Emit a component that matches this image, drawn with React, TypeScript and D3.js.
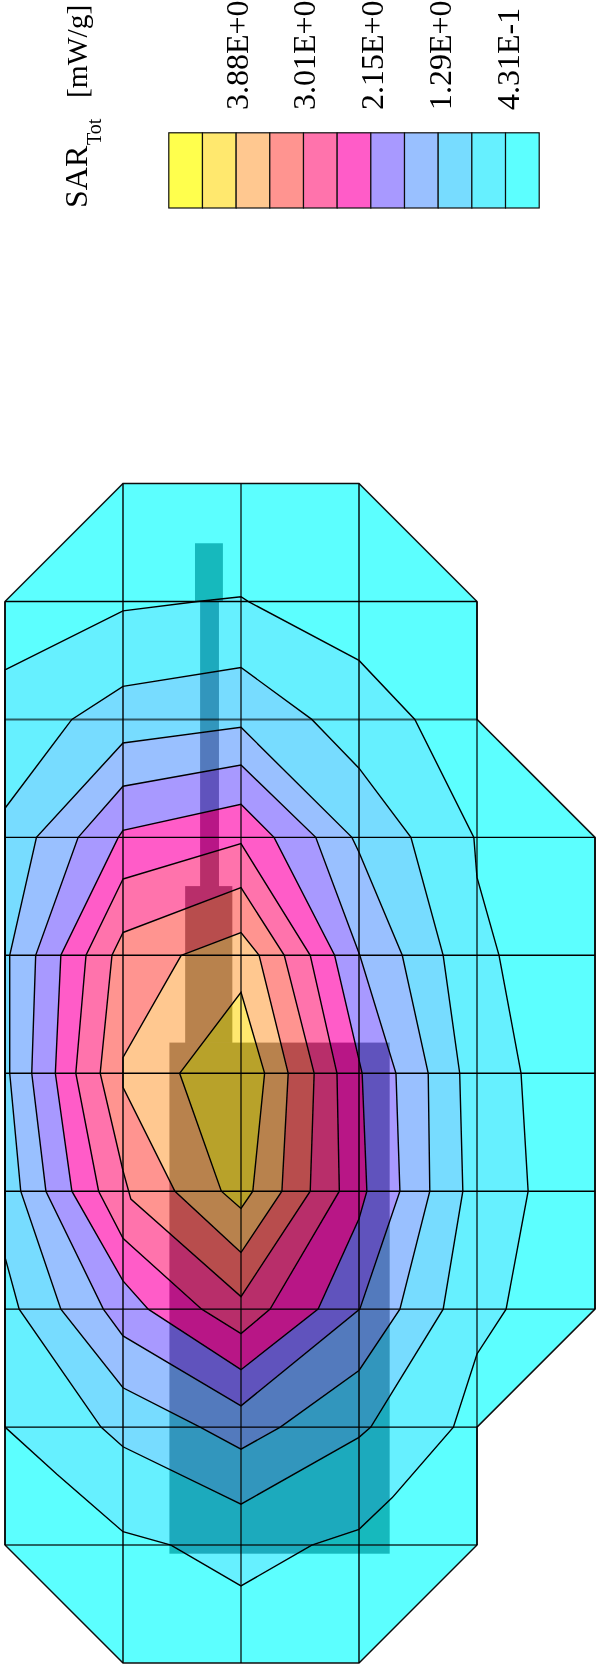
import * as d3 from "d3";

// Positions are in mm on the 15 mm measurement grid
type Pt = [number, number];

const outline: Pt[] = [
  [15, 0], [45, 0], [60, 15], [60, 30], [75, 45], [75, 105], [60, 120],
  [60, 135], [45, 150], [15, 150], [0, 135], [0, 15],
];

const gridRowSpans: [number, number, number][] = [
  [15, 0, 60], [30, 0, 60], [45, 0, 75], [60, 0, 75], [75, 0, 75],
  [90, 0, 75], [105, 0, 75], [120, 0, 60], [135, 0, 60],
];
const gridColSpans: [number, number, number][] = [
  [0, 15, 135], [15, 0, 150], [30, 0, 150], [45, 0, 150], [60, 15, 135], [75, 45, 105],
];
// these grid lines fall between pixels in the scan and come out wider and greyer
const softRows = [30, 135];
const softCols = [0, 30, 60];

const contour1: Pt[] = [
  [0, 23.7], [15, 16.2], [24.5, 15], [30, 14.4], [30.9, 15], [45, 22.5], [52.1, 30],
  [59.6, 45], [60, 50.1], [62.8, 60], [65.6, 75], [66.5, 90], [63.7, 105], [60, 110.7],
  [57, 120], [49.2, 129], [45, 133], [39, 135], [30, 140.2], [21.1, 135], [15, 133.3],
  [6.6, 126], [0, 120],
];
const contour2: Pt[] = [
  [0, 41.3], [8.5, 30], [15, 25.8], [30, 23.4], [39, 30], [45, 36.2], [51.6, 45],
  [55.7, 60], [57.8, 75], [58.2, 90], [55.7, 105], [46.5, 120], [45, 121.3], [30, 129.8],
  [15, 122.5], [12.2, 120], [1.8, 105], [0, 98.4],
];
const contour3: Pt[] = [
  [0.6, 60], [4, 45], [15, 33], [30, 31], [44.1, 45], [45, 46.9], [50.5, 60], [53.8, 75],
  [54, 90], [50.2, 105], [45, 112.8], [35, 120], [30, 122.8], [24.8, 120], [15, 115],
  [7.1, 105], [2, 90], [0.6, 75],
];
const contour4: Pt[] = [
  [9.3, 45], [15, 38.5], [30, 35.8], [39.5, 45], [45.1, 60], [49.7, 75], [50.2, 90],
  [45.1, 105], [30, 117.3], [15, 108.4], [12.5, 105], [5.2, 90], [3.4, 75], [3.9, 60],
];
const contour5: Pt[] = [
  [14.4, 45], [15, 44.1], [30, 40.8], [34.2, 45], [41.9, 60], [45.4, 75], [46, 90],
  [45, 93.5], [39.8, 105], [30, 112.7], [18.2, 105], [15, 101.4], [8.5, 90], [6.4, 75],
  [7.1, 60],
];
const contour6: Pt[] = [
  [15, 50.3], [30, 45.8], [38.8, 60], [42.2, 75], [42.5, 90], [33.7, 105], [30, 108.1],
  [25, 105], [15, 96], [11.9, 90], [9, 75], [10.3, 60],
];
const contour7: Pt[] = [
  [15, 57.1], [30, 51.4], [35.5, 60], [39.3, 75], [38.8, 90], [30, 103.4], [16, 91],
  [15, 87.4], [12.1, 75], [13.6, 60],
];
const contour8: Pt[] = [
  [22.4, 60], [30, 57.1], [32.3, 60], [36, 75], [35.2, 90], [30, 97.8], [21.6, 90],
  [15, 76.8], [15, 73],
];
const contour9: Pt[] = [
  [30, 64.7], [33, 75], [31.5, 90], [30, 92.2], [27.5, 90], [22.2, 75],
];

const contours = [
  contour1, contour2, contour3, contour4, contour5, contour6, contour7, contour8, contour9,
];

// x0, x1, y0, y1 of the antenna drawn on top of the field
const antennaParts: [number, number, number, number][] = [
  [24.15, 27.7, 7.6, 15],
  [24.8, 27.2, 15, 51.2],
  [22.9, 28.9, 51.2, 71.1],
  [20.9, 48.9, 71.1, 136.1],
];

// legend runs from the highest level on the left to the lowest on the right
const legendColors = [
  "#ffff4d", "#ffe86e", "#ffc890", "#ff9490", "#ff73ac", "#ff5cc8",
  "#a899ff", "#99c0ff", "#77dcff", "#66f0ff", "#5cffff",
];
const legendLabels = ["3.88E+0", "3.01E+0", "2.15E+0", "1.29E+0", "4.31E-1"];

const font = "'Liberation Serif', serif";
const labelRotate = (x: number, y: number) => `translate(${x},${y}) rotate(-90)`;

export default function App() {
  const x = d3.scaleLinear().domain([0, 75]).range([5, 595]);
  const y = d3.scaleLinear().domain([0, 150]).range([483.5, 1663]);
  const line = d3
    .line<Pt>()
    .x((d) => x(d[0]))
    .y((d) => y(d[1]))
    .curve(d3.curveLinearClosed);

  const legendX = d3
    .scaleBand<number>()
    .domain(d3.range(legendColors.length))
    .range([168.8, 539.2]);
  const labelX = d3.scalePoint<string>().domain(legendLabels).range([247.5, 518.5]);
  const bandFills = legendColors.slice(1).reverse();

  return (
    <svg
      width={597}
      height={1666}
      style={{ position: "absolute", left: 0, top: 0, display: "block", background: "#fff" }}
    >
      <defs>
        <filter id="scan" filterUnits="userSpaceOnUse" x={0} y={0} width={597} height={1666}>
          <feGaussianBlur stdDeviation={0.45} />
        </filter>
      </defs>
      <g filter="url(#scan)">
        {/* legend */}
        {legendColors.map((c, i) => (
          <rect
            key={c}
            x={legendX(i)}
            y={132.8}
            width={legendX.bandwidth()}
            height={75.2}
            fill={c}
            stroke="#111"
            strokeWidth={1.2}
          />
        ))}
        {legendLabels.map((t) => (
          <text
            key={t}
            transform={labelRotate(labelX(t)!, 110)}
            fontFamily={font}
            fontSize={32}
            fill="#000"
          >
            {t}
          </text>
        ))}
        <text transform={labelRotate(87, 208)} fontFamily={font} fontSize={32}>
          SAR
        </text>
        <text transform={labelRotate(100.5, 145)} fontFamily={font} fontSize={20}>
          Tot
        </text>
        <text transform={labelRotate(87, 98)} fontFamily={font} fontSize={29.5}>
          [mW/g]
        </text>

        {/* field */}
        <path d={line(outline)!} fill={bandFills[0]} />
        {contours.map((c, i) => (
          <path key={i} d={line(c)!} fill={bandFills[i + 1]} />
        ))}
        {antennaParts.map((p, i) => (
          <rect
            key={i}
            x={x(p[0])}
            y={y(p[2])}
            width={x(p[1]) - x(p[0])}
            height={y(p[3]) - y(p[2])}
            fill="#474642"
            style={{ mixBlendMode: "difference" }}
          />
        ))}
        {contours.map((c, i) => (
          <path key={i} d={line(c)!} fill="none" stroke="#000" strokeWidth={1.4} />
        ))}

        {/* grid */}
        <path d={line(outline)!} fill="none" stroke="#111" strokeWidth={1.5} />
        {gridRowSpans.map(([r, a, b]) => {
          const soft = softRows.includes(r);
          return (
            <line
              key={r}
              x1={x(a)}
              x2={x(b)}
              y1={y(r)}
              y2={y(r)}
              stroke="#000"
              strokeWidth={soft ? 2 : 1.4}
              strokeOpacity={soft ? 0.6 : 1}
            />
          );
        })}
        {gridColSpans.map(([c, a, b]) => {
          const soft = softCols.includes(c);
          return (
            <line
              key={c}
              x1={x(c)}
              x2={x(c)}
              y1={y(a)}
              y2={y(b)}
              stroke="#000"
              strokeWidth={soft ? 2 : 1.4}
              strokeOpacity={soft ? 0.6 : 1}
            />
          );
        })}
      </g>
    </svg>
  );
}
